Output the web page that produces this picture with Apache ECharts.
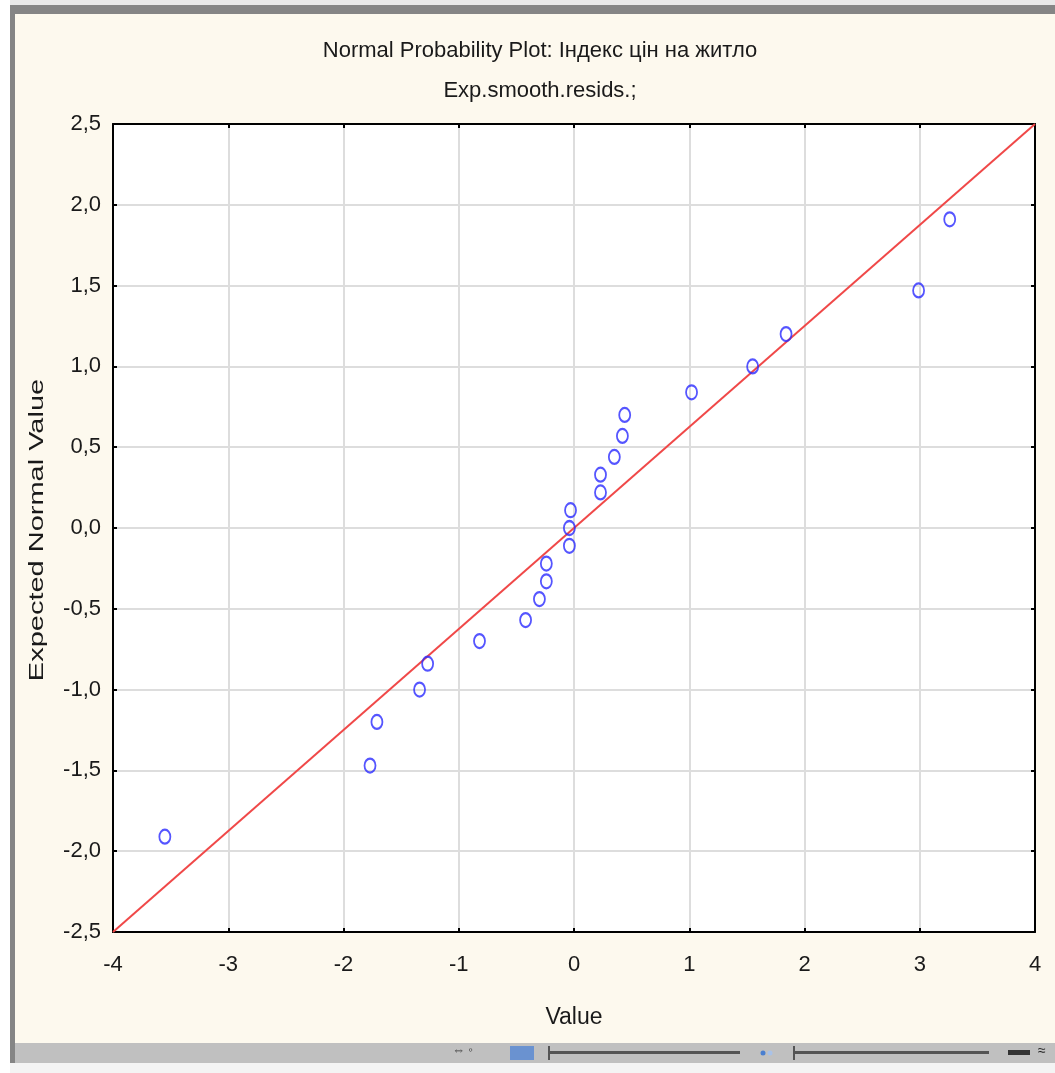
<!DOCTYPE html>
<html>
<head>
<meta charset="utf-8">
<script src="https://cdn.jsdelivr.net/npm/echarts@6/dist/echarts.min.js"></script>
<style>
  html, body { margin: 0; padding: 0; background: #ffffff; }
  #chart { width: 1055px; height: 1073px; }
</style>
</head>
<body>
<div id="chart"></div>
<script>
// residual values (x) and expected normal values (y)
var residValues = [-3.55, -1.77, -1.71, -1.34, -1.27, -0.82, -0.42, -0.30, -0.24, -0.24, -0.04, -0.04,
  -0.03, 0.23, 0.23, 0.35, 0.42, 0.44, 1.02, 1.55, 1.84, 2.99, 3.26];
var expectedNormal = [-1.91, -1.47, -1.20, -1.00, -0.84, -0.70, -0.57, -0.44, -0.33, -0.22, -0.11, 0.00,
  0.11, 0.22, 0.33, 0.44, 0.57, 0.70, 0.84, 1.00, 1.20, 1.47, 1.91];
// reference line end points
var lineX = [-4, 4];
var lineY = [-2.5, 2.5];

var font = "'Liberation Sans', Arial, sans-serif";
var chart = echarts.init(document.getElementById("chart"));

var points = residValues.map(function (v, i) { return [v, expectedNormal[i]]; });
var refLine = lineX.map(function (v, i) { return [v, lineY[i]]; });

function commaFmt(v) {
  return v.toFixed(1).replace(".", ",");
}

var option = {
  backgroundColor: "#fdf9ee",
  animation: false,
  title: {
    text: "Normal Probability Plot: Індекс цін на житло\nExp.smooth.resids.;",
    left: 535,
    textAlign: "center",
    top: 26,
    textStyle: {
      fontFamily: font,
      fontWeight: "normal",
      fontSize: 22,
      color: "#1a1a1a",
      lineHeight: 40
    }
  },
  grid: { left: 113, right: 20, top: 124, bottom: 141, backgroundColor: "#ffffff", show: true, borderWidth: 0 },
  xAxis: [
    {
      type: "value",
      min: -4, max: 4, interval: 1,
      name: "Value",
      nameLocation: "middle",
      nameGap: 74,
      nameTextStyle: { fontFamily: font, fontSize: 23, color: "#1a1a1a" },
      axisLine: { onZero: false, lineStyle: { color: "#000", width: 2 } },
      axisTick: { inside: true, length: 4, lineStyle: { color: "#000", width: 2 } },
      axisLabel: { fontFamily: font, fontSize: 22, color: "#1a1a1a", margin: 22 },
      splitLine: { lineStyle: { color: "#dddddd", width: 2 } }
    },
    {
      type: "value", position: "top",
      min: -4, max: 4, interval: 1,
      axisLine: { onZero: false, lineStyle: { color: "#000", width: 2 } },
      axisTick: { inside: true, length: 4, lineStyle: { color: "#000", width: 2 } },
      axisLabel: { show: false },
      splitLine: { show: false }
    }
  ],
  yAxis: [
    {
      type: "value",
      min: -2.5, max: 2.5, interval: 0.5,
      axisLine: { onZero: false, lineStyle: { color: "#000", width: 2 } },
      axisTick: { inside: true, length: 4, lineStyle: { color: "#000", width: 2 } },
      axisLabel: { fontFamily: font, fontSize: 22, color: "#1a1a1a", margin: 12, formatter: commaFmt },
      splitLine: { lineStyle: { color: "#dddddd", width: 2 } }
    },
    {
      type: "value", position: "right",
      min: -2.5, max: 2.5, interval: 0.5,
      axisLine: { onZero: false, lineStyle: { color: "#000", width: 2 } },
      axisTick: { inside: true, length: 4, lineStyle: { color: "#000", width: 2 } },
      axisLabel: { show: false },
      splitLine: { show: false }
    }
  ],
  series: [
    {
      type: "line",
      data: refLine,
      symbol: "none",
      lineStyle: { color: "#f04848", width: 2 },
      z: 2
    },
    {
      type: "scatter",
      data: points,
      symbol: "circle",
      symbolSize: [11, 14],
      itemStyle: { color: "rgba(0,0,0,0)", borderColor: "#2a2aff", borderWidth: 2 },
      z: 3
    }
  ],
  graphic: [
    // window frame
    { type: "rect", shape: { x: 0, y: 0, width: 1055, height: 5 }, style: { fill: "#e8e8e8" } },
    { type: "rect", shape: { x: 0, y: 0, width: 10, height: 1073 }, style: { fill: "#ffffff" } },
    { type: "rect", shape: { x: 10, y: 5, width: 1045, height: 9 }, style: { fill: "#858585" } },
    { type: "rect", shape: { x: 10, y: 5, width: 5, height: 1060 }, style: { fill: "#858585" } },
    { type: "rect", shape: { x: 15, y: 1043, width: 1040, height: 20 }, style: { fill: "#c0c0c0" } },
    { type: "rect", shape: { x: 10, y: 1063, width: 1045, height: 10 }, style: { fill: "#f4f4f4" } },
    // toolbar bits
    { type: "rect", shape: { x: 510, y: 1046, width: 24, height: 14 }, style: { fill: "#6a92d0" } },
    { type: "rect", shape: { x: 548, y: 1051, width: 192, height: 3 }, style: { fill: "#555" } },
    { type: "rect", shape: { x: 548, y: 1046, width: 2, height: 14 }, style: { fill: "#555" } },
    { type: "circle", shape: { cx: 763, cy: 1053, r: 2.5 }, style: { fill: "#4a7fd0" } },
    { type: "circle", shape: { cx: 770, cy: 1053, r: 2.5 }, style: { fill: "#a9c2e8" } },
    { type: "rect", shape: { x: 793, y: 1051, width: 196, height: 3 }, style: { fill: "#555" } },
    { type: "rect", shape: { x: 793, y: 1046, width: 2, height: 14 }, style: { fill: "#555" } },
    { type: "rect", shape: { x: 1008, y: 1050, width: 22, height: 5 }, style: { fill: "#333" } },
    { type: "text", x: 1038, y: 1044, style: { text: "≈", fontSize: 14, fill: "#222" } },
    { type: "text", x: 452, y: 1044, style: { text: "⇔ ◦", fontSize: 13, fill: "#333" } },
    // y axis name, stretched along its length as in the source
    {
      type: "text", x: 37, y: 530, rotation: Math.PI / 2, scaleX: 1.38,
      style: { text: "Expected Normal Value", font: "21px " + font, fill: "#1a1a1a", align: "center", verticalAlign: "middle" }
    }
  ]
};

chart.setOption(option);
</script>
</body>
</html>
